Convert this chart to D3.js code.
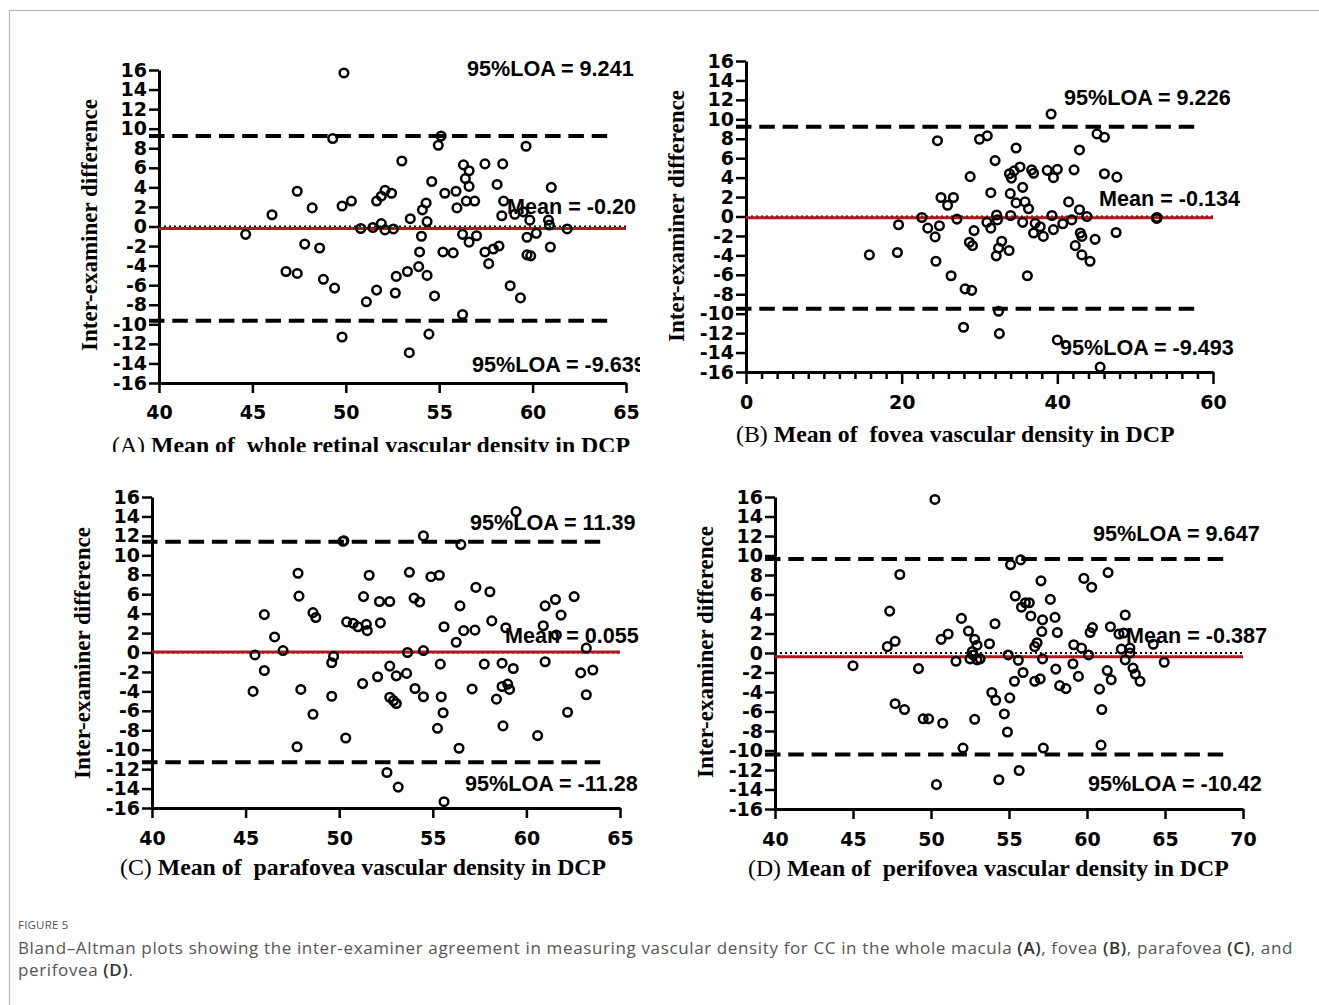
<!DOCTYPE html>
<html>
<head>
<meta charset="utf-8">
<script src="https://cdn.jsdelivr.net/npm/d3@7"></script>
<style>
  body { margin: 0; background: #fff; }
  svg { display: block; }
</style>
</head>
<body>
<svg id="fig" width="1319" height="1005"></svg>
<script>
// ---------- data: mean of the two examiners (x) and their difference (y) ----------
const wholeMean = [49.9,49.3,47.4,46.05,48.2,49.8,50.3,44.64,47.8,48.6,46.8,47.4,48.8,49.4,49.8,
  55.1,54.95,59.65,53.0,56.3,57.45,58.4,56.6,56.4,54.6,58.1,61.0,56.6,52.1,52.45,55.3,55.9,51.65,51.9,
  54.3,54.1,53.45,54.35,55.95,56.45,56.9,58.45,58.35,59.05,59.5,59.85,60.85,60.9,60.2,59.7,61.85,60.95,
  59.7,59.9,50.8,51.45,51.9,52.1,52.55,54.05,53.95,55.2,55.75,56.25,56.6,57.0,57.45,57.9,58.2,57.65,
  52.7,53.3,53.9,54.35,52.65,51.65,51.1,54.75,58.8,59.35,56.25,54.45,53.4];
const wholeDiff = [15.7,9.0,3.6,1.2,1.9,2.1,2.6,-0.8,-1.8,-2.2,-4.6,-4.8,-5.4,-6.3,-11.3,
  9.25,8.3,8.2,6.7,6.3,6.4,6.4,5.7,4.9,4.6,4.3,4.0,4.1,3.7,3.4,3.4,3.6,2.6,3.1,
  2.4,1.7,0.8,0.5,1.9,2.6,2.6,2.6,1.1,1.25,1.5,0.65,0.65,0.15,-0.7,-1.1,-0.25,-2.1,
  -2.9,-3.0,-0.2,-0.1,0.3,-0.35,-0.25,-1.0,-2.6,-2.6,-2.7,-0.8,-1.6,-0.95,-2.6,-2.3,-2.0,-3.8,
  -5.1,-4.6,-4.1,-5.0,-6.8,-6.5,-7.7,-7.1,-6.05,-7.3,-9.0,-11.0,-12.9];

const foveaMean = [15.85,19.45,19.6,22.6,23.35,24.85,24.3,24.4,26.35,24.6,25.05,25.9,26.65,27.1,39.2,
  45.1,46.05,30.0,31.0,34.7,42.85,32.0,28.8,33.85,34.45,35.2,34.1,36.7,36.95,38.7,40.0,39.5,42.15,46.05,
  47.65,31.45,33.95,35.55,34.7,35.85,36.3,41.45,42.85,32.2,30.95,32.3,34.0,35.55,37.15,36.95,37.8,38.2,
  39.5,39.3,40.7,41.85,43.8,42.95,43.15,44.85,47.55,42.3,43.15,44.2,29.3,28.7,29.1,31.45,32.85,32.45,
  32.15,33.8,36.15,28.15,29.0,32.45,27.95,32.55,40.0,45.5,52.8,52.8,52.75];
const foveaDiff = [-3.95,-3.7,-0.85,-0.1,-1.2,-0.95,-2.1,-4.6,-6.1,7.8,1.95,1.15,1.95,-0.27,10.55,
  8.5,8.15,7.95,8.3,7.05,6.85,5.75,4.1,4.4,4.7,5.1,3.95,4.8,4.45,4.75,4.85,4.0,4.8,4.4,
  4.05,2.45,2.35,3.0,1.4,1.5,0.8,1.5,0.7,0.15,-0.6,-0.35,0.1,-0.6,-0.7,-1.7,-1.05,-2.05,
  -1.35,0.1,-0.75,-0.35,0.0,-1.7,-2.05,-2.35,-1.65,-3.0,-3.95,-4.6,-1.45,-2.65,-3.0,-1.2,-2.55,-3.25,
  -4.05,-3.5,-6.1,-7.45,-7.6,-9.75,-11.4,-12.05,-12.7,-15.5,-0.15,-0.1,-0.2];

const parafoveaMean = [50.2,50.25,47.8,47.85,48.6,48.75,46.0,46.55,47.0,45.5,46.0,45.4,47.95,49.7,49.6,
  49.6,48.6,50.35,47.75,50.4,50.75,51.0,51.45,51.5,51.3,51.25,59.45,54.5,56.5,51.6,53.75,54.9,55.35,
  57.3,58.05,52.15,52.7,54.0,54.3,56.45,61.0,61.55,62.55,61.85,52.2,55.6,56.65,57.25,58.15,58.9,56.25,
  60.9,61.6,63.2,53.65,54.5,55.4,57.75,58.7,59.3,61.0,52.7,52.05,53.05,53.6,54.05,54.5,52.7,52.9,53.05,
  55.45,55.55,55.25,57.1,58.4,58.7,59.0,59.1,62.9,63.55,63.2,62.2,58.75,60.6,56.4,52.55,53.15,55.6];
const parafoveaDiff = [11.45,11.5,8.15,5.8,4.1,3.6,3.9,1.6,0.2,-0.25,-1.85,-4.0,-3.8,-0.4,-1.05,
  -4.5,-6.35,-8.8,-9.7,3.15,3.0,2.65,2.9,2.25,5.75,-3.2,14.5,12.0,11.1,7.95,8.25,7.8,7.95,
  6.7,6.25,5.25,5.25,5.6,5.2,4.8,4.8,5.45,5.75,3.85,3.05,2.65,2.25,2.3,3.25,2.55,1.05,
  2.75,1.8,0.45,0.0,0.2,-1.2,-1.2,-1.1,-1.65,-0.95,-1.4,-2.5,-2.4,-2.15,-3.7,-4.55,-4.6,-4.95,-5.25,
  -4.55,-6.2,-7.8,-3.75,-4.8,-3.5,-3.25,-3.8,-2.1,-1.8,-4.35,-6.15,-7.55,-8.55,-9.85,-12.35,-13.85,-15.35];

const perifoveaMean = [50.25,48.0,47.35,47.7,47.2,45.0,49.2,50.65,51.1,51.95,52.4,51.6,52.65,52.5,52.95,
  47.7,48.3,49.5,49.85,50.75,52.8,52.05,50.35,55.1,55.75,61.35,59.8,60.3,57.05,55.4,56.05,56.3,55.8,
  57.65,56.4,57.15,57.95,62.45,54.1,52.8,52.95,53.75,57.1,58.1,56.8,56.65,60.35,60.2,61.5,62.05,62.35,
  59.15,59.65,60.1,64.25,62.2,62.75,62.45,62.75,62.95,63.1,63.4,64.95,52.7,53.15,54.95,55.6,57.15,59.1,
  55.9,58.0,59.45,55.35,56.65,57.0,58.25,58.65,61.3,61.55,60.8,53.9,54.15,55.05,54.7,54.9,60.95,57.2,
  60.9,54.35,55.65];
const perifoveaDiff = [15.75,8.05,4.3,1.2,0.65,-1.3,-1.6,1.4,1.95,3.55,2.25,-0.85,0.15,-0.6,-0.7,
  -5.2,-5.8,-6.75,-6.75,-7.2,-6.8,-9.75,-13.5,9.05,9.55,8.25,7.65,6.75,7.4,5.85,5.15,5.15,4.7,
  5.5,3.8,3.4,3.65,3.9,3.0,1.4,0.8,0.95,2.2,2.1,1.05,0.65,2.6,2.1,2.7,1.95,2.05,
  0.85,0.5,-0.2,0.9,0.4,0.5,-0.7,0.0,-1.55,-2.15,-2.9,-0.95,-0.2,-0.6,-0.2,-0.75,-0.6,-1.1,
  -2.0,-1.65,-2.4,-2.9,-2.9,-2.65,-3.35,-3.65,-1.8,-2.75,-3.7,-4.05,-4.85,-4.6,-6.25,-8.1,-5.8,-9.75,
  -9.45,-13.0,-12.05];

// bias (mean difference) and 95% limits of agreement, as printed on each plot
const biasLabels  = ["-0.20", "-0.134", "0.055", "-0.387"];
const upperLabels = ["9.241", "9.226", "11.39", "9.647"];
const lowerLabels = ["-9.639", "-9.493", "-11.28", "-10.42"];

// axes
const xDomains = [[40, 65], [0, 60], [40, 65], [40, 70]];
const xTickSets = [[40, 45, 50, 55, 60, 65], [0, 20, 40, 60], [40, 45, 50, 55, 60, 65], [40, 45, 50, 55, 60, 65, 70]];
const yTicks = [-16, -14, -12, -10, -8, -6, -4, -2, 0, 2, 4, 6, 8, 10, 12, 14, 16];
const panelTags = ["(A)", "(B)", "(C)", "(D)"];
const xTitles = ["Mean of  whole retinal vascular density in DCP", "Mean of  fovea vascular density in DCP",
                 "Mean of  parafovea vascular density in DCP", "Mean of  perifovea vascular density in DCP"];
const yTitle = "Inter-examiner difference";

const seriesMean = [wholeMean, foveaMean, parafoveaMean, perifoveaMean];
const seriesDiff = [wholeDiff, foveaDiff, parafoveaDiff, perifoveaDiff];

// ---------- page layout of the four plots ----------
const frames = [
  { left: 159, right: 626, top: 70, bottom: 383, clip: [640, 452], padX: 13,
    yTitle: [97, 225], xTitle: [112, 453], up: [467, 76], mid: [507, 214], low: [472, 372] },
  { left: 746, right: 1213, top: 61, bottom: 372, clip: null, padX: 12, minor: 2,
    yTitle: [684, 216], xTitle: [736, 442], up: [1064, 105], mid: [1099, 206], low: [1060, 355] },
  { left: 152, right: 620, top: 497, bottom: 808, clip: null, padX: 14,
    yTitle: [90, 653], xTitle: [120, 875], up: [470, 530], mid: [505, 643], low: [465, 791] },
  { left: 775, right: 1243, top: 497, bottom: 809, clip: null, padX: 14,
    yTitle: [713, 652], xTitle: [748, 876], up: [1093, 541], mid: [1126, 643], low: [1088, 791] }
];

const SANS = "Arial, 'Liberation Sans', sans-serif";
const TICKFONT = "'DejaVu Sans', Arial, sans-serif";
const SERIF = "'Times New Roman', 'Liberation Serif', serif";
const RED = "#b3161c";

const svg = d3.select("#fig");

// outer figure frame
svg.append("rect")
  .attr("x", 9.5).attr("y", 10.5).attr("width", 1340).attr("height", 1100)
  .attr("fill", "none").attr("stroke", "#b5b5b5").attr("stroke-width", 1.2);

const defs = svg.append("defs");

frames.forEach((f, i) => {
  let g = svg.append("g");
  if (f.clip) {
    defs.append("clipPath").attr("id", "clip" + i)
      .append("rect").attr("x", 0).attr("y", 0).attr("width", f.clip[0]).attr("height", f.clip[1]);
    g.attr("clip-path", `url(#clip${i})`);
  }

  const x = d3.scaleLinear().domain(xDomains[i]).range([f.left, f.right]);
  const y = d3.scaleLinear().domain([-16, 16]).range([f.bottom, f.top]);

  // axes (plain hyphen for negative tick labels)
  const yAxis = g.append("g").attr("transform", `translate(${f.left},0)`)
    .call(d3.axisLeft(y).tickValues(yTicks).tickSize(10).tickPadding(2).tickSizeOuter(0).tickFormat(d => String(d)));
  const xAxis = g.append("g").attr("transform", `translate(0,${f.bottom})`)
    .call(d3.axisBottom(x).tickValues(xTickSets[i]).tickSize(f.minor ? 12 : 10).tickPadding(f.padX).tickSizeOuter(0)
      .tickFormat(d => String(d)));
  if (f.minor) {
    const minorVals = d3.range(xDomains[i][0], xDomains[i][1] + 0.001, f.minor)
      .filter(v => !xTickSets[i].includes(v));
    g.append("g").attr("transform", `translate(0,${f.bottom})`)
      .call(d3.axisBottom(x).tickValues(minorVals).tickSize(7).tickFormat("").tickSizeOuter(0))
      .call(a => a.select(".domain").remove())
      .selectAll("line").attr("stroke-width", 2.5);
  }
  [yAxis, xAxis].forEach(a => {
    a.select(".domain").attr("stroke-width", 3).attr("stroke", "#000");
    a.selectAll(".tick line").attr("stroke-width", 2.5).attr("stroke", "#000");
    a.selectAll(".tick text").attr("font-family", TICKFONT).attr("font-weight", "bold")
      .attr("font-size", 19).attr("fill", "#000");
  });

  // zero reference (dotted), bias line (red), limits of agreement (dashed)
  g.append("line").attr("x1", f.left).attr("x2", f.right).attr("y1", y(0)).attr("y2", y(0))
    .attr("stroke", "#000").attr("stroke-width", 2).attr("stroke-dasharray", "2,3");
  const bias = +biasLabels[i];
  g.append("line").attr("x1", f.left).attr("x2", f.right).attr("y1", y(bias)).attr("y2", y(bias))
    .attr("stroke", RED).attr("stroke-width", 3);
  [+upperLabels[i], +lowerLabels[i]].forEach(v => {
    g.append("line").attr("x1", f.left - 10).attr("x2", f.right - 13).attr("y1", y(v)).attr("y2", y(v))
      .attr("stroke", "#000").attr("stroke-width", 4).attr("stroke-dasharray", "15.5,7.8");
  });

  // annotations
  const ann = [[f.up, "95%LOA = " + upperLabels[i]], [f.mid, "Mean = " + biasLabels[i]], [f.low, "95%LOA = " + lowerLabels[i]]];
  ann.forEach(([p, t]) => {
    g.append("text").attr("x", p[0]).attr("y", p[1]).text(t)
      .attr("font-family", SANS).attr("font-weight", "bold").attr("font-size", 21.6).attr("fill", "#000");
  });

  // points
  g.append("g").selectAll("circle").data(d3.zip(seriesMean[i], seriesDiff[i])).join("circle")
    .attr("cx", d => x(d[0])).attr("cy", d => y(d[1])).attr("r", 4.3)
    .attr("fill", "none").attr("stroke", "#000").attr("stroke-width", 2.5);

  // axis titles
  g.append("text").attr("transform", `translate(${f.yTitle[0]},${f.yTitle[1]}) rotate(-90)`)
    .attr("text-anchor", "middle").attr("font-family", SERIF).attr("font-weight", "bold")
    .attr("font-size", 23).text(yTitle);
  const xt = g.append("text").attr("x", f.xTitle[0]).attr("y", f.xTitle[1])
    .attr("font-family", SERIF).attr("font-size", 23.8).style("white-space", "pre");
  xt.append("tspan").text(panelTags[i] + " ");
  xt.append("tspan").attr("font-weight", "bold").text(xTitles[i]);
});

// ---------- caption ----------
const CAP = "'Open Sans', 'Noto Sans', sans-serif";
svg.append("text").attr("x", 18).attr("y", 929).text("FIGURE 5")
  .attr("font-family", CAP).attr("font-size", 11.5).attr("fill", "#555").attr("letter-spacing", 0.2);

const capLines = [
  [["Bland\u2013Altman plots showing the inter-examiner agreement in measuring vascular density for CC in the whole macula ", false],
   ["(A)", true], [", fovea ", false], ["(B)", true], [", parafovea ", false], ["(C)", true], [", and", false]],
  [["perifovea ", false], ["(D)", true], [".", false]]
];
const capY = [954, 976];
const capTexts = capLines.map((parts, k) => {
  const t = svg.append("text").attr("x", 18).attr("y", capY[k])
    .attr("font-family", CAP).attr("font-size", 17).attr("fill", "#555");
  parts.forEach(([s, b]) => {
    const ts = t.append("tspan").text(s);
    if (b) ts.attr("font-weight", 600).attr("fill", "#333");
  });
  return t;
});
// spread the first caption line to the full text width and use the same spacing on the second
const firstLen = capTexts[0].node().getComputedTextLength();
const nChars = capLines[0].map(p => p[0]).join("").length;
const spacing = Math.max(0, (1275 - firstLen) / nChars);
capTexts.forEach(t => t.attr("letter-spacing", spacing));
</script>
</body>
</html>
